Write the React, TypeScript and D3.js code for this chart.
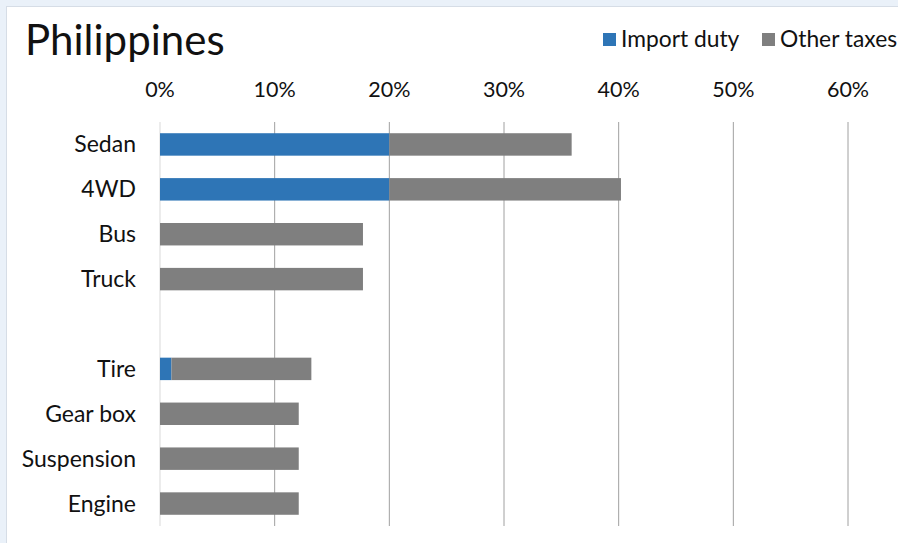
import React from "react";
import * as d3 from "d3";

const categories = ["Sedan", "4WD", "Bus", "Truck", "", "Tire", "Gear box", "Suspension", "Engine"];
const importDuty = [20, 20, 0, 0, null, 1, 0, 0, 0];
const otherTaxes = [15.9, 20.2, 17.7, 17.7, null, 12.2, 12.1, 12.1, 12.1];
const xTicks = [0, 10, 20, 30, 40, 50, 60];
const seriesNames = ["Import duty", "Other taxes"];
const colors = ["#2e75b6", "#7f7f7f"];

const W = 898;
const H = 543;
const FONT = "Lato, 'Open Sans', sans-serif";

export default function App() {
  const x = d3.scaleLinear().domain([0, 60]).range([160, 848]);
  const y = d3.scaleBand<string>().domain(categories.map((c, i) => i + "")).range([122, 526]).paddingInner(0.5).paddingOuter(0.25);

  return (
    <div style={{ position: "absolute", left: 0, top: 0 }}>
      <svg width={W} height={H} style={{ display: "block" }}>
        <rect x={0} y={0} width={W} height={H} fill="#eaf1f9" />
        <rect x={6.5} y={6.5} width={W} height={H} fill="#ffffff" stroke="#d6dde6" />
        <text x={25} y={55} fontFamily={FONT} fontSize={42} fill="#111">Philippines</text>
        {seriesNames.map((s, i) => {
          const lx = i === 0 ? 603 : 762;
          return (
            <g key={s}>
              <rect x={lx} y={33} width={13} height={13} fill={colors[i]} />
              <text x={lx + 18} y={47} fontFamily={FONT} fontSize={22.8} fill="#111">{s}</text>
            </g>
          );
        })}
        {xTicks.map((t) => (
          <g key={t}>
            <line x1={x(t)} x2={x(t)} y1={122} y2={526} stroke={t === 0 ? "#d9d9d9" : "#a0a0a0"} strokeWidth={1} />
            <text x={x(t)} y={97} textAnchor="middle" fontFamily={FONT} fontSize={21.5} fill="#111">{t + "%"}</text>
          </g>
        ))}
        {categories.map((c, i) => {
          const yy = y(i + "")!;
          const bh = y.bandwidth();
          const a = importDuty[i];
          const b = otherTaxes[i];
          return (
            <g key={i}>
              {c && (
                <text x={136} y={yy + bh / 2 + 8} textAnchor="end" fontFamily={FONT} fontSize={23} fill="#111">{c}</text>
              )}
              {a !== null && a > 0 && (
                <rect x={x(0)} y={yy} width={x(a) - x(0)} height={bh} fill={colors[0]} />
              )}
              {b !== null && (
                <rect x={x(a || 0)} y={yy} width={x((a || 0) + b) - x(a || 0)} height={bh} fill={colors[1]} />
              )}
            </g>
          );
        })}
      </svg>
    </div>
  );
}
